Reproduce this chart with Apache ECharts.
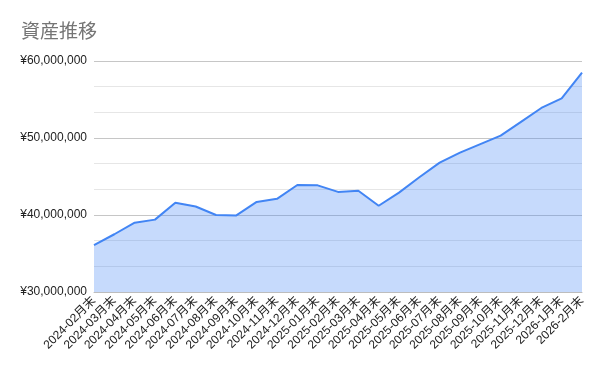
<!DOCTYPE html>
<html><head><meta charset="utf-8">
<script src="https://cdn.jsdelivr.net/npm/echarts@6/dist/echarts.min.js"></script>
<style>html,body{margin:0;padding:0;background:#fff}#c{width:600px;height:371px}</style>
</head><body><div id="c"></div>
<script>
const titleText = '資産推移';
const categories = ['2024-02月末','2024-03月末','2024-04月末','2024-05月末','2024-06月末','2024-07月末','2024-08月末','2024-09月末','2024-10月末','2024-11月末','2024-12月末','2025-01月末','2025-02月末','2025-03月末','2025-04月末','2025-05月末','2025-06月末','2025-07月末','2025-08月末','2025-09月末','2025-10月末','2025-11月末','2025-12月末','2026-1月末','2026-2月末'];
const assets = [36100000,37500000,39000000,39400000,41600000,41100000,40000000,39950000,41700000,42100000,43900000,43850000,43000000,43150000,41200000,42900000,44900000,46800000,48100000,49200000,50300000,52100000,53900000,55150000,58500000];
const yMin = 30000000, yMax = 60000000, yStep = 10000000;

const chart = echarts.init(document.getElementById('c'));
const font = 'Arial, "Liberation Sans", "Noto Sans CJK JP", sans-serif';
chart.setOption({
  animation: false,
  title: { text: titleText, left: 16, top: 16, textStyle: { fontSize: 19, fontWeight: 'normal', color: '#757575', fontFamily: '"Noto Sans CJK JP", sans-serif' } },
  grid: { left: 94, right: 18, top: 61, bottom: 79 },
  xAxis: {
    type: 'category', data: categories, boundaryGap: false,
    axisLine: { lineStyle: { color: '#bdbdbd' } },
    axisTick: { show: false },
    axisLabel: { rotate: 45, interval: 0, fontSize: 12, color: '#222', fontFamily: font, margin: 7 }
  },
  yAxis: {
    type: 'value', min: yMin, max: yMax, interval: yStep,
    axisLine: { show: false }, axisTick: { show: false },
    axisLabel: { fontSize: 12, color: '#222', fontFamily: font, margin: 7,
      formatter: v => '¥' + v.toLocaleString('en-US') },
    splitLine: { lineStyle: { color: '#c6c6c6' } },
    minorTick: { show: false, splitNumber: 3 },
    minorSplitLine: { show: true, lineStyle: { color: '#e6e6e6' } }
  },
  series: [{
    type: 'line', data: assets, symbol: 'none',
    lineStyle: { color: '#4285f4', width: 2 },
    areaStyle: { color: '#4285f4', opacity: 0.3 }
  }]
});
</script></body></html>
